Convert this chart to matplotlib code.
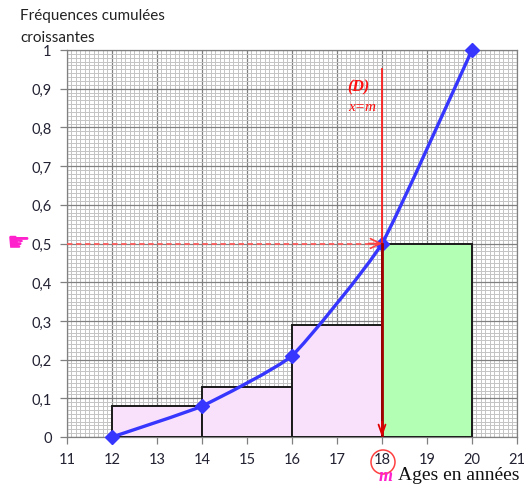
import numpy as np
import matplotlib
matplotlib.use("Agg")
import matplotlib.pyplot as plt
from matplotlib.path import Path
from matplotlib.patches import PathPatch, Rectangle, Ellipse, FancyArrowPatch

# Age classes (years) and relative frequencies
class_edges = [12, 14, 16, 18, 20]
frequencies = [0.08, 0.13, 0.29, 0.50]
class_colors = ["#fae1fb", "#fae1fb", "#fae1fb", "#b3ffb3"]

# Cumulative increasing frequencies at the class bounds
cum_x = [12, 14, 16, 18, 20]
cum_y = [0.0, 0.08, 0.21, 0.50, 1.00]

median = 18
x_ticks = list(range(11, 22))
y_ticks = [round(0.1 * i, 1) for i in range(11)]
y_tick_labels = ["0" if v == 0 else ("1" if v == 1 else f"{v:.1f}".replace(".", ",")) for v in y_ticks]

fig = plt.figure(figsize=(5.26, 4.85), dpi=100)
ax = fig.add_axes([67 / 526, 47 / 485, 450 / 526, 387 / 485])
ax.set_xlim(11, 21)
ax.set_ylim(0, 1)

# Graph-paper grid
ax.set_xticks(x_ticks)
ax.set_yticks(y_ticks)
ax.set_xticks(np.arange(11, 21.001, 0.1), minor=True)
ax.set_yticks(np.arange(0, 1.0001, 0.01), minor=True)
ax.grid(which="minor", color="#c4c4c4", linewidth=0.7)
ax.grid(which="major", color="#808080", linewidth=0.9)
ax.set_axisbelow(True)
ax.tick_params(which="minor", length=0)
ax.tick_params(which="major", length=5, width=0.9, color="#808080", direction="out",
               labelsize=10.5, labelcolor="#222233", pad=6)
ax.set_yticklabels(y_tick_labels, fontfamily="Lato")
ax.set_xticklabels([str(v) for v in x_ticks], fontfamily="Lato")
for s in ax.spines.values():
    s.set_color("#808080")
    s.set_linewidth(0.9)

# Histogram of the classes
for left, right, f, c in zip(class_edges[:-1], class_edges[1:], frequencies, class_colors):
    ax.add_patch(Rectangle((left, 0), right - left, f, facecolor=c,
                           edgecolor="#1a1a1a", linewidth=1.4, zorder=3))

# Lightly smoothed cumulative frequency polygon (Bezier segments)
smooth = 1.0 / 14.0
pts = np.column_stack([cum_x, cum_y]).astype(float)
verts = [tuple(pts[0])]
codes = [Path.MOVETO]
n = len(pts)
for i in range(n - 1):
    p_prev = pts[max(i - 1, 0)]
    p0 = pts[i]
    p1 = pts[i + 1]
    p_next = pts[min(i + 2, n - 1)]
    c1 = p0 + (p1 - p_prev) * smooth
    c2 = p1 - (p_next - p0) * smooth
    verts += [tuple(c1), tuple(c2), tuple(p1)]
    codes += [Path.CURVE4] * 3
ax.add_patch(PathPatch(Path(verts, codes), facecolor="none", edgecolor="#3636ff",
                       linewidth=2.4, zorder=5, capstyle="round", clip_on=False))
ax.plot(cum_x, cum_y, linestyle="none", marker="D", markersize=7,
        color="#3636ff", zorder=6, clip_on=False)

# Reading the median: horizontal dashed line at 0.5 and vertical line x = m
ax.plot([11, median], [0.5, 0.5], color="#ff5a5a", linewidth=1.3,
        linestyle=(0, (3, 2)), zorder=7)
ax.add_patch(FancyArrowPatch((median - 0.3, 0.5), (median, 0.5),
                             arrowstyle="->,head_length=7,head_width=3.5",
                             color="#ff4040", linewidth=1.2, mutation_scale=1,
                             zorder=7, shrinkA=0, shrinkB=0))
ax.plot([median, median], [0.95, 0.5], color="#ff2020", linewidth=1.3, zorder=7)
ax.plot([median, median], [0.5, 0.0], color="#a00000", linewidth=2.0, zorder=7)
ax.add_patch(FancyArrowPatch((median, 0.04), (median, 0.0),
                             arrowstyle="->,head_length=7,head_width=2.5",
                             color="#e00000", linewidth=1.3, mutation_scale=1,
                             zorder=8, shrinkA=0, shrinkB=0))

ax.text(17.47, 0.905, "(D)", color="#ff1010", fontsize=11.5, fontstyle="italic",
        fontweight="bold", fontfamily="Liberation Serif", ha="center", va="center", zorder=9)
ax.text(17.55, 0.853, "x=m", color="#ff1010", fontsize=11, fontstyle="italic",
        fontfamily="Liberation Serif", ha="center", va="center", zorder=9)

# Figure-level annotations
fig.text(20 / 526, 1 - 16 / 485, "Fréquences cumulées", fontsize=11, fontfamily="Lato",
         color="#222222", ha="left", va="center")
fig.text(20 / 526, 1 - 38 / 485, "croissantes", fontsize=11, fontfamily="Lato",
         color="#222222", ha="left", va="center")
fig.text(19 / 526, 1 - 244 / 485, "\u261b", fontsize=19, fontfamily="DejaVu Sans",
         color="#ff22cc", ha="center", va="center")
fig.patches.append(Ellipse((383 / 526, 1 - 463 / 485), 24 / 526, 24 / 485,
                           transform=fig.transFigure, facecolor="none",
                           edgecolor="#ff4040", linewidth=1.1))
fig.text(386 / 526, 1 - 477 / 485, "m", fontsize=13, fontstyle="italic",
         fontweight="bold", fontfamily="Liberation Serif", color="#ff22cc",
         ha="center", va="center")
fig.text(398 / 526, 1 - 476 / 485, "Ages en années", fontsize=14,
         fontfamily="Liberation Serif", color="#111111", ha="left", va="center")

fig.savefig("out.png", dpi=100)
